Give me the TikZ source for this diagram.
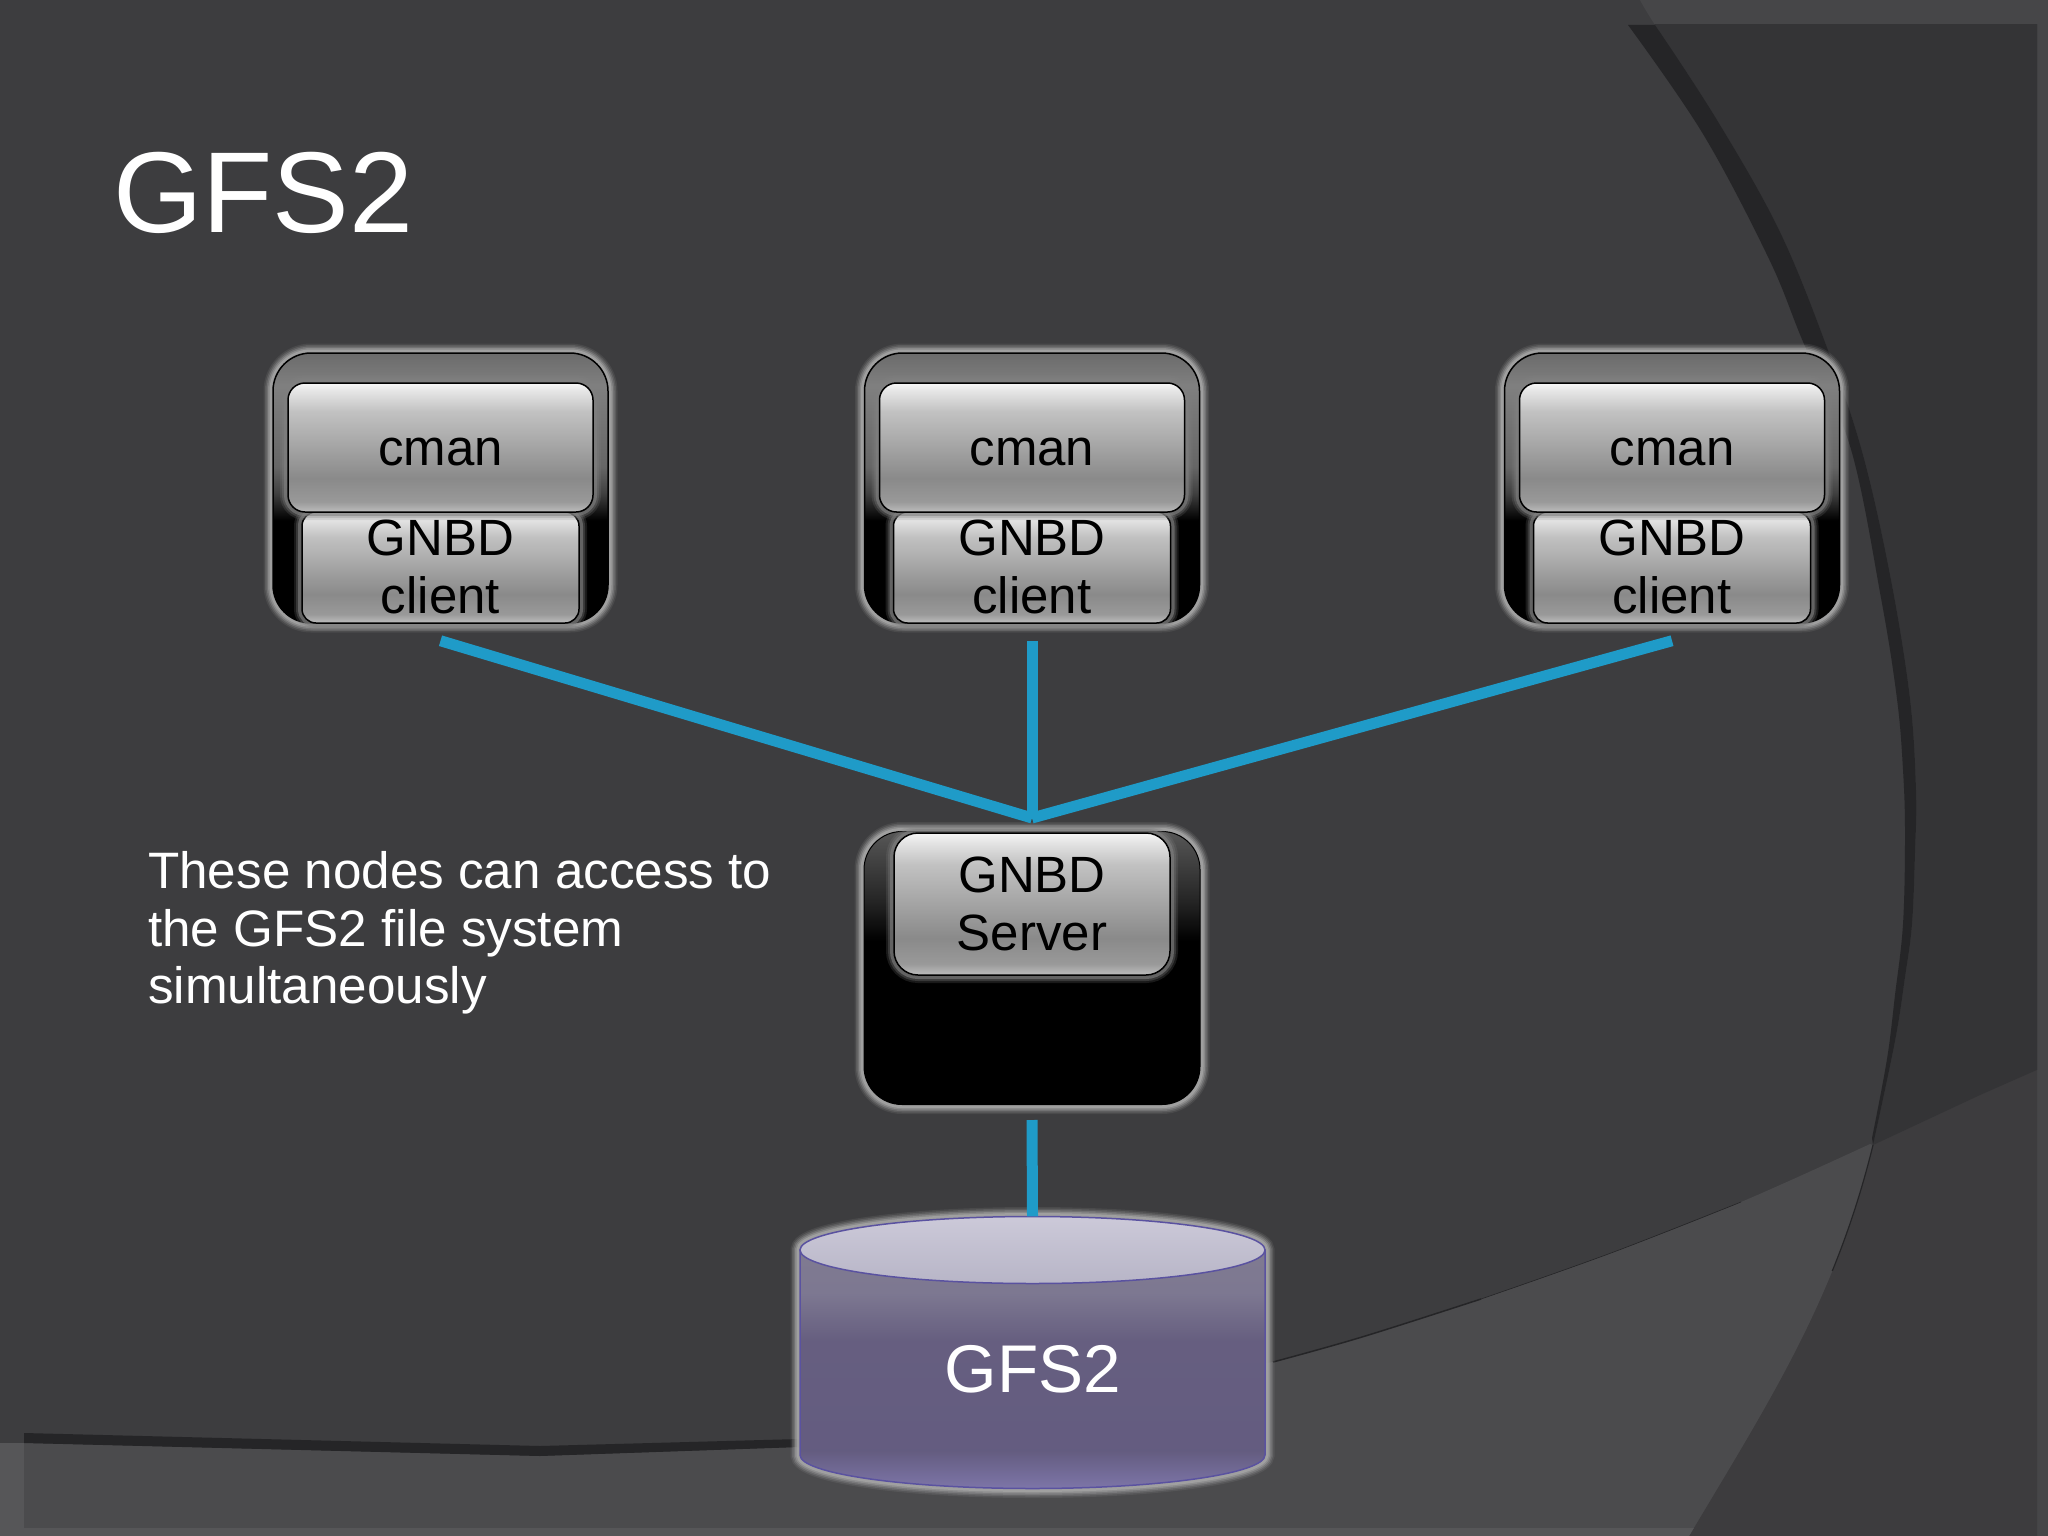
\documentclass[tikz,border=0pt]{standalone}
\usepackage{fontspec}
\setmainfont{Liberation Sans}
\definecolor{slideBase}{HTML}{3D3D3F}
\definecolor{slideFrame}{HTML}{464648}
\definecolor{slideDark}{HTML}{343436}
\definecolor{slideLow}{HTML}{3D3C3E}
\definecolor{slideBand}{HTML}{252527}
\definecolor{slideWedge}{HTML}{4B4B4D}
\definecolor{slideEdge}{HTML}{565658}
\definecolor{linkBlue}{HTML}{1F9BC8}
\definecolor{diskEdge}{HTML}{5A52A0}
\definecolor{glowGray}{HTML}{A8A8A8}
% vertical shadings, the path fills 25bp (bottom) to 75bp (top)
\pgfdeclareverticalshading{btnShade}{100bp}{
  rgb(0bp)=(.74,.74,.74); rgb(25bp)=(.74,.74,.74); rgb(29bp)=(.60,.60,.60);
  rgb(38bp)=(.54,.54,.54); rgb(64bp)=(.76,.76,.76); rgb(72bp)=(.90,.90,.90);
  rgb(75bp)=(.97,.97,.97); rgb(100bp)=(.97,.97,.97)}
\pgfdeclareverticalshading{hostShade}{100bp}{
  rgb(0bp)=(0,0,0); rgb(25bp)=(0,0,0); rgb(44bp)=(0,0,0); rgb(49bp)=(.25,.25,.25);
  rgb(54bp)=(.40,.40,.40); rgb(69bp)=(.50,.50,.50); rgb(75bp)=(.42,.42,.42); rgb(100bp)=(.42,.42,.42)}
\pgfdeclareverticalshading{serverShade}{100bp}{
  rgb(0bp)=(0,0,0); rgb(25bp)=(0,0,0); rgb(55bp)=(0,0,0); rgb(62bp)=(.14,.14,.14);
  rgb(75bp)=(.34,.34,.34); rgb(100bp)=(.34,.34,.34)}
\pgfdeclareverticalshading{diskShade}{100bp}{
  rgb(0bp)=(.49,.46,.66); rgb(25bp)=(.49,.46,.66); rgb(33bp)=(.39,.36,.50);
  rgb(56bp)=(.40,.37,.50); rgb(66bp)=(.49,.47,.57); rgb(75bp)=(.50,.48,.57); rgb(100bp)=(.50,.48,.57)}
\pgfdeclareverticalshading{lidShade}{100bp}{
  rgb(0bp)=(.72,.71,.78); rgb(25bp)=(.72,.71,.78); rgb(75bp)=(.80,.79,.85); rgb(100bp)=(.80,.79,.85)}
\tikzset{
  glow/.style={
    preaction={draw=#1,line width=19pt,draw opacity=.12},
    preaction={draw=#1,line width=16pt,draw opacity=.2},
    preaction={draw=#1,line width=13pt,draw opacity=.3},
    preaction={draw=#1,line width=10pt,draw opacity=.45},
    preaction={draw=#1,line width=7pt,draw opacity=.7}},
  halo/.style={
    preaction={draw=gray,line width=16pt,draw opacity=.2},
    preaction={draw=gray,line width=12pt,draw opacity=.3},
    preaction={draw=gray,line width=8pt,draw opacity=.6}},
  box/.style={rectangle,inner sep=0pt,align=center,text=black,font=\fontsize{51}{58}\selectfont},
  host/.style={box,minimum width=335pt,minimum height=270pt,rounded corners=38pt,
    draw=black,line width=1.5pt,shading=hostShade,glow=glowGray},
  server/.style={box,minimum width=336pt,minimum height=273pt,rounded corners=38pt,
    draw=black,line width=1pt,shading=serverShade,glow=glowGray},
  btn/.style={box,draw=black,line width=1.5pt,shading=btnShade,halo},
  link/.style={draw=linkBlue,line width=11pt},
  bandfill/.style={fill=slideBand}
}
\begin{document}
\begin{tikzpicture}[x=1pt,y=-1pt]
\useasboundingbox (0,0) rectangle (2048,1536);
% slide background
\fill[slideBase] (0,0) rectangle (2048,1536);
\fill[slideFrame] plot[smooth,tension=.6] coordinates {(1640,0) (1655,25) (1717,120) (1780,232) (1829,353) (1863,455) (1891,580) (1910,699) (1916,791) (1915,852) (1912,924) (1905,977) (1895,1041) (1873,1145)}
  .. controls (1835,1300) and (1770,1400) .. (1689,1536)
  -- (2048,1536) -- (2048,0) -- cycle;
\begin{scope}
  \clip (0,25) rectangle (2037,1536);
  \fill[slideLow] plot[smooth,tension=.6] coordinates {(1640,0) (1655,25) (1717,120) (1780,232) (1829,353) (1863,455) (1891,580) (1910,699) (1916,791) (1915,852) (1912,924) (1905,977) (1895,1041) (1873,1145)}
    .. controls (1835,1300) and (1770,1400) .. (1689,1536)
    -- (2048,1536) -- (2048,0) -- cycle;
  \fill[slideDark] plot[smooth,tension=.6] coordinates {(1640,0) (1655,25) (1717,120) (1780,232) (1829,353) (1863,455) (1891,580) (1910,699) (1916,791) (1915,852) (1912,924) (1905,977) (1895,1041) (1873,1145)}
    -- (1980,1095) -- (2048,1065) -- (2048,0) -- cycle;
\end{scope}
% light wedge along the bottom
\begin{scope}
  \path[clip] (0,1443) -- (24,1443) -- (540,1456) -- (800,1447) -- (1273,1362)
    -- plot[smooth,tension=.6] coordinates {(1273,1362) (1362,1337) (1481,1299) (1611,1253) (1741,1202) (1870,1144)}
    -- (1873,1145) .. controls (1835,1300) and (1770,1400) .. (1689,1536)
    -- (0,1536) -- cycle;
  \fill[slideWedge] (0,1100) rectangle (2048,1536);
  \fill[slideEdge] (0,1528) rectangle (2048,1536);
  \fill[slideEdge] (0,1100) rectangle (24,1536);
\end{scope}
% dark bands
\fill[bandfill] plot[smooth,tension=.6] coordinates {(1628,25) (1703,134) (1769,259) (1804,344) (1850,446) (1881,598) (1897,699) (1903,770) (1905,834) (1903,924) (1895,995) (1887,1059) (1872,1138)}
  -- (1873,1145)
  -- plot[smooth,tension=.6] coordinates {(1873,1145) (1895,1041) (1905,977) (1912,924) (1915,852) (1916,791) (1910,699) (1891,580) (1863,455) (1829,353) (1780,232) (1717,120) (1655,25)} -- cycle;
\fill[bandfill] (24,1433) -- (540,1446) -- (800,1439) -- (800,1447) -- (540,1456) -- (24,1443) -- cycle;
\draw[slideBand,line width=1.5pt] plot[smooth,tension=.6] coordinates {(1273,1362) (1362,1337) (1481,1299)};
\draw[slideBand,line width=.6pt] plot[smooth,tension=.6] coordinates {(1481,1299) (1611,1253) (1741,1202)};
\begin{scope}
  \clip (1700,1100) rectangle (1950,1270);
  \draw[slideBand,line width=1.2pt] (1873,1145) .. controls (1835,1300) and (1770,1400) .. (1689,1536);
\end{scope}
% title
\node[anchor=base west,inner sep=0pt,text=white,font=\fontsize{115}{115}\selectfont] (title) at (113,232) {GFS2};
% client machines
\foreach \n/\x in {A/440.5,B/1032,C/1672}{
  \node[host] (host\n) at (\x,488) {};
  \node[btn,minimum width=277pt,minimum height=111pt,rounded corners=14pt,text depth=2.6pt] (gnbd\n) at (\x,567.5) {GNBD\\client};
  \node[btn,minimum width=305pt,minimum height=129pt,rounded corners=17pt,text height=36pt,text depth=0pt] (cman\n) at (\x,447.5) {cman};
}
% server
\node[server] (server) at (1032,968) {};
\node[btn,minimum width=276pt,minimum height=142pt,rounded corners=24pt] (gnbdS) at (1032,904) {GNBD\\Server};
% description
\node[anchor=base west,inner sep=0pt,align=left,text=white,font=\fontsize{51.2}{57.5}\selectfont] (desc) at (148,1003.5)
  {These nodes can access to\\the GFS2 file system\\simultaneously};
% disk
\path[glow=glowGray] (800,1250) -- (800,1455) arc[x radius=232.5pt,y radius=33.5pt,start angle=180,end angle=360] -- (1265,1250) arc[x radius=232.5pt,y radius=33.5pt,start angle=0,end angle=180] -- cycle;
\draw[diskEdge,line width=1.5pt,shading=diskShade] (800,1250) -- (800,1455) arc[x radius=232.5pt,y radius=33.5pt,start angle=180,end angle=360] -- (1265,1250) -- cycle;
\draw[diskEdge,line width=1.5pt,shading=lidShade] (1032.5,1250) ellipse[x radius=232.5pt,y radius=33.5pt];
\node[rectangle,inner sep=0pt,minimum width=465pt,minimum height=272pt] (disk) at (1032.5,1352.5) {};
\node[inner sep=0pt,text=white,font=\fontsize{67.5}{67.5}\selectfont] (diskLabel) at (1033,1369) {GFS2};
% connectors
\coordinate (hub) at ([yshift=13pt]server.north);
\draw[link] ([yshift=-17pt]hostA.south) -- (hub);
\draw[link] ([yshift=-17pt]hostC.south) -- (hub);
\draw[link] ([yshift=-17pt]hostB.south) -- (hub);
\draw[link] ([yshift=-15pt]server.south) -- (disk.north);
\end{tikzpicture}
\end{document}
